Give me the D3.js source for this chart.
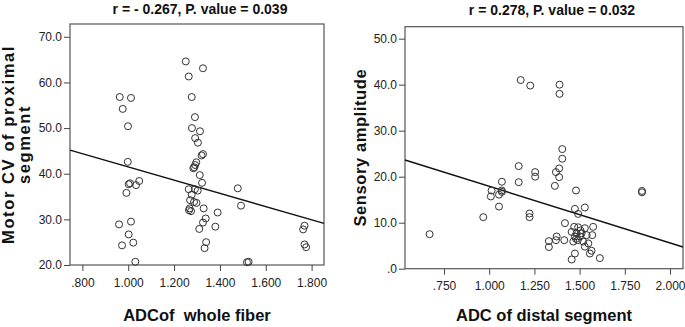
<!DOCTYPE html>
<html>
<head>
<meta charset="utf-8">
<script src="https://cdn.jsdelivr.net/npm/d3@7"></script>
<style>
    body { margin: 0; background: #fff; }
    svg { display: block; }
    .tick text { font-family: "Liberation Sans", Arial, sans-serif; font-size: 12px; fill: #222; }
    .tick line { stroke: #444; }
    .title { font-family: "Liberation Sans Narrow", "Arial Narrow", "Liberation Sans", sans-serif; font-stretch: condensed; font-weight: bold; font-size: 14px; fill: #111; }
    .axis-title { font-family: "Liberation Sans", Arial, sans-serif; font-weight: bold; font-size: 16.5px; fill: #111; white-space: pre; }
</style>
</head>
<body>
<svg id="chart" width="685" height="327"></svg>
<script>
// left panel: ADC of whole fiber vs motor CV of proximal segment
const leftTitle = "r = - 0.267, P. value = 0.039";
const leftXTitle = "ADCof  whole fiber";
const leftYTitle = ["Motor CV of proximal", "segment"];
const leftXTicks = [0.8, 1.0, 1.2, 1.4, 1.6, 1.8];
const leftYTicks = [20, 30, 40, 50, 60, 70];
const leftX = [0.963, 1.012, 0.976, 0.999, 0.998, 1.251, 1.326, 1.264, 1.277, 1.291,
    1.278, 1.313, 1.292, 1.304, 1.326, 1.320, 1.292, 1.297, 1.288, 1.284,
    1.312, 1.322, 1.008, 1.002, 1.034, 1.048, 0.992, 1.264, 1.291, 1.303,
    1.277, 1.270, 1.287, 1.298, 1.268, 1.274, 1.265, 1.329, 1.390, 1.338,
    1.326, 1.310, 1.380, 1.340, 1.333, 1.478, 1.492, 0.960, 1.012, 1.002,
    0.973, 1.022, 1.031, 1.518, 1.525, 1.769, 1.763, 1.769, 1.776];
const leftY = [56.8, 56.6, 54.2, 50.4, 42.6, 64.6, 63.1, 61.3, 56.8, 52.4,
    50.0, 49.3, 47.8, 46.8, 44.3, 44.0, 41.9, 42.5, 41.4, 41.2,
    39.7, 38.0, 37.9, 37.7, 37.5, 38.4, 35.8, 36.6, 36.6, 36.3,
    35.4, 34.2, 33.8, 33.6, 32.4, 31.8, 32.0, 32.4, 31.5, 30.2,
    29.3, 27.9, 28.4, 25.0, 23.7, 36.8, 33.0, 28.9, 29.5, 26.7,
    24.3, 24.9, 20.7, 20.6, 20.7, 28.6, 27.8, 24.5, 23.9];
// fitted line
const leftFit = { intercept: 56.0, slope: -14.5 };

// right panel: ADC of distal segment vs sensory amplitude
const rightTitle = "r = 0.278, P. value = 0.032";
const rightXTitle = "ADC of distal segment";
const rightYTitle = ["Sensory amplitude"];
const rightXTicks = [0.75, 1.0, 1.25, 1.5, 1.75, 2.0];
const rightYTicks = [0, 10, 20, 30, 40, 50];
const rightX = [0.670, 0.967, 1.013, 1.069, 1.009, 1.054, 1.070, 1.054, 1.070, 1.163,
    1.163, 1.174, 1.227, 1.223, 1.223, 1.254, 1.254, 1.389, 1.389, 1.404,
    1.404, 1.387, 1.369, 1.387, 1.363, 1.480, 1.845, 1.845, 1.474, 1.529,
    1.492, 1.419, 1.470, 1.492, 1.529, 1.575, 1.456, 1.483, 1.511, 1.474,
    1.502, 1.539, 1.570, 1.415, 1.373, 1.465, 1.520, 1.548, 1.330, 1.330,
    1.369, 1.474, 1.456, 1.557, 1.612, 1.529, 1.566, 1.490, 1.505, 1.480];
const rightY = [7.5, 11.2, 17.0, 17.0, 15.7, 16.1, 16.7, 13.5, 18.9, 22.3,
    18.8, 41.0, 39.8, 12.0, 11.2, 21.0, 20.0, 40.0, 38.0, 26.0,
    23.9, 21.8, 21.0, 19.9, 18.0, 17.0, 16.9, 16.6, 13.0, 13.3,
    11.9, 9.9, 9.1, 9.0, 8.8, 9.1, 8.0, 7.7, 7.7, 7.0,
    7.0, 7.3, 7.3, 6.2, 7.0, 5.9, 5.9, 5.5, 6.0, 4.7,
    6.2, 3.3, 2.0, 3.3, 2.3, 4.8, 3.9, 6.2, 8.3, 6.5];
const rightFit = { intercept: 30.2, slope: -12.3 };

const svg = d3.select("#chart");

renderPanel({
    title: leftTitle, titleX: 200, titleY: 13.5,
    xTitle: leftXTitle, xTitleY: 321,
    yTitle: leftYTitle, yTitleX: [14, 30], yTitleSpacing: 1.6,
    left: 70, right: 324, top: 24, bottom: 265,
    xDomain: [0.746, 1.854], yDomain: [20, 72.8],
    xTicks: leftXTicks, yTicks: leftYTicks,
    xFormat: d => d3.format(".3f")(d).replace(/^0\./, "."),
    yFormat: d => d3.format(".1f")(d),
    xs: leftX, ys: leftY, fit: leftFit
});

renderPanel({
    title: rightTitle, titleX: 552, titleY: 14.5,
    xTitle: rightXTitle, xTitleY: 321,
    yTitle: rightYTitle, yTitleX: [366], yTitleSpacing: 0.6,
    left: 405, right: 683, top: 26.7, bottom: 268.7,
    xDomain: [0.534, 2.072], yDomain: [0, 52.6],
    xTicks: rightXTicks, yTicks: rightYTicks,
    xFormat: d => d3.format(".3f")(d).replace(/^0\./, "."),
    yFormat: d => d === 0 ? ".0" : d3.format(".1f")(d),
    xs: rightX, ys: rightY, fit: rightFit
});

function renderPanel(p) {
    const xScale = d3.scaleLinear().domain(p.xDomain).range([p.left, p.right]);
    const yScale = d3.scaleLinear().domain(p.yDomain).range([p.bottom, p.top]);

    // frame
    svg.append("rect")
        .attr("x", p.left).attr("y", p.top)
        .attr("width", p.right - p.left).attr("height", p.bottom - p.top)
        .attr("fill", "none").attr("stroke", "#555").attr("stroke-width", 1.2);

    // axes (domain line replaced by the frame)
    svg.append("g")
        .attr("transform", `translate(0, ${p.bottom})`)
        .call(d3.axisBottom(xScale).tickValues(p.xTicks).tickFormat(p.xFormat).tickSize(6).tickPadding(7))
        .call(g => g.select(".domain").remove());
    svg.append("g")
        .attr("transform", `translate(${p.left}, 0)`)
        .call(d3.axisLeft(yScale).tickValues(p.yTicks).tickFormat(p.yFormat).tickSize(6).tickPadding(2))
        .call(g => g.select(".domain").remove());

    // fitted line across the frame
    svg.append("line")
        .attr("x1", xScale(p.xDomain[0])).attr("y1", yScale(p.fit.intercept + p.fit.slope * p.xDomain[0]))
        .attr("x2", xScale(p.xDomain[1])).attr("y2", yScale(p.fit.intercept + p.fit.slope * p.xDomain[1]))
        .attr("stroke", "#111").attr("stroke-width", 1.4);

    // points
    const points = p.xs.map((x, i) => ({ x: x, y: p.ys[i] }));
    svg.append("g")
        .selectAll("circle")
        .data(points)
        .join("circle")
        .attr("cx", d => xScale(d.x))
        .attr("cy", d => yScale(d.y))
        .attr("r", 3.5)
        .attr("fill", "none")
        .attr("stroke", "#333")
        .attr("stroke-width", 1);

    // titles
    svg.append("text")
        .attr("class", "title")
        .attr("x", p.titleX).attr("y", p.titleY)
        .attr("text-anchor", "middle")
        .text(p.title);
    svg.append("text")
        .attr("class", "axis-title")
        .attr("x", (p.left + p.right) / 2).attr("y", p.xTitleY)
        .attr("text-anchor", "middle")
        .text(p.xTitle);
    const yMid = (p.top + p.bottom) / 2;
    p.yTitle.forEach((line, i) => {
        svg.append("text")
            .attr("class", "axis-title")
            .attr("transform", `translate(${p.yTitleX[i]}, ${yMid}) rotate(-90)`)
            .attr("text-anchor", "middle")
            .style("letter-spacing", `${p.yTitleSpacing}px`)
            .text(line);
    });
}
</script>
</body>
</html>
